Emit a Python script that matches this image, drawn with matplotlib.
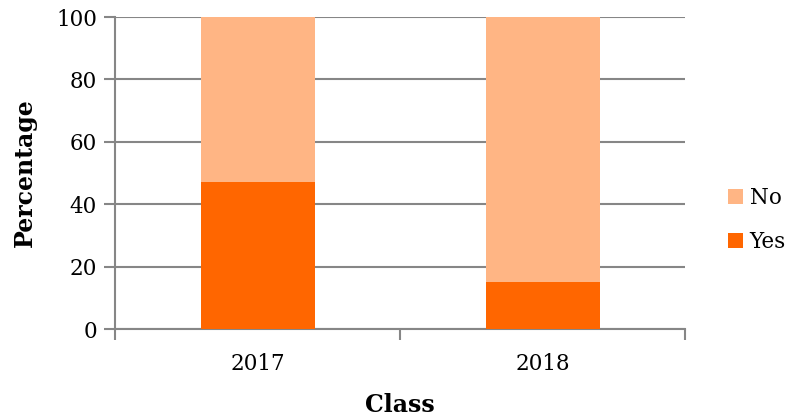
import numpy as np
import matplotlib.pyplot as plt

plt.rcParams['font.family'] = ['DejaVu Serif']

# 數據
classes = ['2017', '2018']
yes_pct = [47, 15]
no_pct = [53, 85]

fig = plt.figure(figsize=(7.95, 4.19), dpi=100)
ax = fig.add_axes([115/795, 90/419, 570/795, 312/419])

x = np.arange(len(classes))
ax.bar(x, yes_pct, width=0.4, color='#FF6600', label='Yes', zorder=3)
ax.bar(x, no_pct, width=0.4, bottom=yes_pct, color='#FFB584', label='No', zorder=3)

ax.set_xlim(-0.5, 1.5)
ax.set_ylim(0, 100)
ax.set_yticks(range(0, 101, 20))
ax.set_xticks(x)
ax.set_xticklabels(classes)
# 分類邊界刻度
ax.set_xticks([-0.5, 0.5, 1.5], minor=True)
ax.tick_params(axis='x', which='major', length=0, pad=17, labelsize=15.5)
ax.tick_params(axis='x', which='minor', length=8, width=1.5, color='#868686', direction='out')
ax.tick_params(axis='y', length=8, width=1.5, color='#868686', labelsize=15.5, pad=5)

ax.grid(axis='y', color='#868686', linewidth=1.5, zorder=0)
for s in ['top', 'right']:
    ax.spines[s].set_visible(False)
ax.spines['left'].set_color('#868686')
ax.spines['left'].set_linewidth(1.5)
ax.spines['bottom'].set_color('#868686')
ax.spines['bottom'].set_linewidth(1.5)

ax.set_xlabel('Class', fontsize=17, fontweight='bold', labelpad=13)
ax.set_ylabel('Percentage', fontsize=17, fontweight='bold', labelpad=14)

handles, labels = ax.get_legend_handles_labels()
ax.legend(handles[::-1], labels[::-1], loc='center left',
          bbox_to_anchor=(728/795, (419-220)/419), bbox_transform=fig.transFigure,
          frameon=False, fontsize=15.5, handlelength=0.7, handleheight=0.7,
          labelspacing=1.0, handletextpad=0.3, borderpad=0, borderaxespad=0)

plt.savefig('out.png', dpi=100)
